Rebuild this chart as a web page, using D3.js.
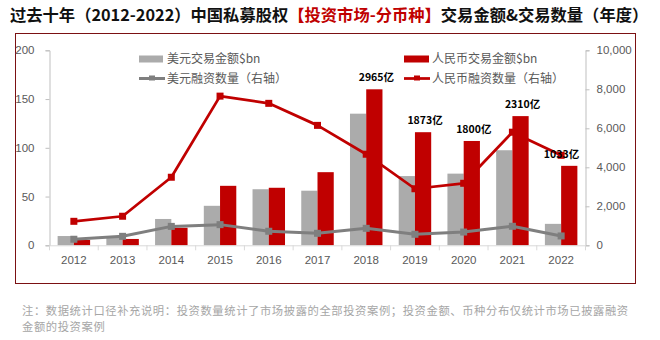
<!DOCTYPE html>
<html>
<head>
<meta charset="utf-8">
<script src="https://cdn.jsdelivr.net/npm/d3@7"></script>
<style>
  html, body { margin: 0; padding: 0; background: #fff; }
  svg { display: block; font-family: "Noto Sans CJK SC", "Noto Sans", sans-serif; }
</style>
</head>
<body>
<svg id="chart" width="660" height="340"></svg>
<script>
// Years on the category axis
const years = ["2012", "2013", "2014", "2015", "2016", "2017", "2018", "2019", "2020", "2021", "2022"];
// Deal amounts ($bn), left axis
const usdAmount = [9.5, 9, 27, 40.5, 57.5, 56, 135, 71, 73.5, 97.5, 22];
const rmbAmount = [5.5, 6.5, 18, 61, 59, 75, 160, 116, 107, 132.5, 81.5];
// Deal counts, right axis
const usdCount = [310, 460, 970, 1060, 720, 615, 870, 565, 680, 975, 480];
const rmbCount = [1230, 1490, 3490, 7650, 7280, 6150, 4670, 2900, 3180, 5800, 4615];
// Annotations above the RMB bars
const noteYears = ["2018", "2019", "2020", "2021", "2022"];
const noteTexts = ["2965亿", "1873亿", "1800亿", "2310亿", "1033亿"];
// Axis ticks
const leftTicks = [0, 50, 100, 150, 200];
const rightTicks = [0, 2000, 4000, 6000, 8000, 10000];

const legendLabels = ["美元交易金额$bn", "人民币交易金额$bn", "美元融资数量（右轴）", "人民币融资数量（右轴）"];
const footnoteLines = [
  "注：数据统计口径补充说明：投资数量统计了市场披露的全部投资案例；投资金额、币种分布仅统计市场已披露融资",
  "金额的投资案例"
];

const RED = "#c00000", GREY_BAR = "#ababab", GREY_LINE = "#7f7f7f", TXT = "#595959";

const svg = d3.select("#chart");

// Title
const title = svg.append("text")
  .attr("x", 10).attr("y", 21)
  .attr("font-size", 16.3).attr("font-weight", "bold").attr("fill", "#111");
title.append("tspan").text("过去十年（2012-2022）中国私募股权");
title.append("tspan").attr("fill", RED).text("【投资市场-分币种】");
title.append("tspan").text("交易金额&交易数量（年度）");

// Frame
svg.append("rect")
  .attr("x", 15.5).attr("y", 33.5).attr("width", 620).attr("height", 250)
  .attr("fill", "none").attr("stroke", "#7b1113").attr("stroke-width", 1);

const plotLeft = 49.5, plotRight = 585.5, plotTop = 50.3, plotBottom = 245.3;

const x = d3.scaleBand().domain(years).range([plotLeft, plotRight]).padding(0);
const yL = d3.scaleLinear().domain([0, 200]).range([plotBottom, plotTop]);
const yR = d3.scaleLinear().domain([0, 10000]).range([plotBottom, plotTop]);
const inner = d3.scaleBand().domain(["usd", "rmb"]).range([0, x.bandwidth()]).paddingInner(0).paddingOuter(0.5);

// Left axis
const gL = svg.append("g").attr("transform", `translate(${plotLeft},0)`)
  .call(d3.axisLeft(yL).tickValues(leftTicks).tickSize(4).tickPadding(11));
// Right axis
const gR = svg.append("g").attr("transform", `translate(${plotRight},0)`)
  .call(d3.axisRight(yR).tickValues(rightTicks).tickSize(4).tickFormat(d3.format(",")).tickPadding(7));
[gL, gR].forEach(g => {
  g.select(".domain").attr("stroke", "#bfbfbf");
  g.selectAll(".tick line").attr("stroke", "#bfbfbf");
  g.selectAll("text").attr("fill", TXT).attr("font-size", 11.5);
});

// Bars
const bars = svg.append("g");
bars.selectAll(".usd").data(years).join("rect")
  .attr("x", d => x(d) + inner("usd"))
  .attr("width", inner.bandwidth())
  .attr("y", (d, i) => yL(usdAmount[i]))
  .attr("height", (d, i) => plotBottom - yL(usdAmount[i]))
  .attr("fill", GREY_BAR);
bars.selectAll(".rmb").data(years).join("rect")
  .attr("x", d => x(d) + inner("rmb"))
  .attr("width", inner.bandwidth())
  .attr("y", (d, i) => yL(rmbAmount[i]))
  .attr("height", (d, i) => plotBottom - yL(rmbAmount[i]))
  .attr("fill", RED);

// Category axis
const gX = svg.append("g").attr("transform", `translate(0,${plotBottom})`)
  .call(d3.axisBottom(x).tickSize(0).tickPadding(11));
gX.select(".domain").attr("stroke", "#d9d9d9");
gX.selectAll("text").attr("fill", TXT).attr("font-size", 11.5);
gX.selectAll(".bound").data(years.slice(1)).join("line")
  .attr("x1", d => x(d)).attr("x2", d => x(d))
  .attr("y1", 0).attr("y2", 5).attr("stroke", "#d9d9d9");
gX.append("line").attr("x1", plotLeft).attr("x2", plotLeft).attr("y1", 0).attr("y2", 5).attr("stroke", "#d9d9d9");
gX.append("line").attr("x1", plotRight).attr("x2", plotRight).attr("y1", 0).attr("y2", 5).attr("stroke", "#d9d9d9");

// Count lines
const cx = d => x(d) + x.bandwidth() / 2;
function drawLine(values, color, width, msize) {
  const g = svg.append("g");
  const line = d3.line().x((d, i) => cx(years[i])).y(d => yR(d));
  g.append("path").datum(values).attr("d", line)
    .attr("fill", "none").attr("stroke", color).attr("stroke-width", width).attr("stroke-linejoin", "round");
  g.selectAll("rect").data(values).join("rect")
    .attr("x", (d, i) => cx(years[i]) - msize / 2)
    .attr("y", d => yR(d) - msize / 2)
    .attr("width", msize).attr("height", msize).attr("fill", color);
}
drawLine(usdCount, GREY_LINE, 3, 7);
drawLine(rmbCount, RED, 2.75, 7);

// Annotations
const rmbCenter = d => x(d) + inner("rmb") + inner.bandwidth() / 2;
svg.append("g").selectAll("text").data(noteYears).join("text")
  .attr("x", (d, i) => Math.min(rmbCenter(d) + 2, plotRight - 24))
  .attr("y", (d, i) => yL(rmbAmount[years.indexOf(d)]) - 8)
  .attr("text-anchor", "middle")
  .attr("font-size", 10.5).attr("font-weight", "bold").attr("fill", "#000")
  .text((d, i) => noteTexts[i]);

// Legend
const lg = svg.append("g").attr("font-size", 12).attr("fill", TXT);
const legendPos = [[139, 59], [404, 59], [139, 78.5], [404, 78.5]];
lg.append("rect").attr("x", 139).attr("y", 55.5).attr("width", 24).attr("height", 7).attr("fill", GREY_BAR);
lg.append("rect").attr("x", 404).attr("y", 55.5).attr("width", 25).attr("height", 7).attr("fill", RED);
[[139, GREY_LINE, 3], [404, RED, 2.75]].forEach(([lx, c, w]) => {
  lg.append("line").attr("x1", lx).attr("x2", lx + 26).attr("y1", 78.5).attr("y2", 78.5)
    .attr("stroke", c).attr("stroke-width", w);
  lg.append("rect").attr("x", lx + 10).attr("y", 75.5).attr("width", 6).attr("height", 5).attr("fill", c);
});
lg.selectAll("text").data(legendLabels).join("text")
  .attr("x", (d, i) => legendPos[i][0] + 28)
  .attr("y", (d, i) => legendPos[i][1])
  .attr("dy", "0.35em")
  .text(d => d);

// Footnote
svg.append("g").selectAll("text").data(footnoteLines).join("text")
  .attr("x", 22).attr("y", (d, i) => 314.5 + i * 16.5)
  .attr("font-size", 11.3).attr("letter-spacing", 0.6).attr("fill", "#a6a6a6")
  .text(d => d);
</script>
</body>
</html>
